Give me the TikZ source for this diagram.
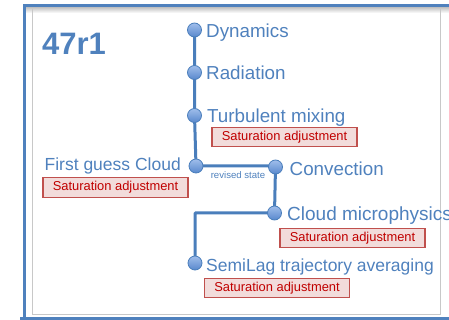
\documentclass[tikz,border=0pt]{standalone}
\usepackage{fontspec}
\setmainfont{Liberation Sans}
\usetikzlibrary{backgrounds}
\definecolor{txtblue}{RGB}{79,129,189}
\definecolor{lineblue}{RGB}{74,126,187}
\definecolor{frameblue}{RGB}{79,129,189}
\definecolor{ballhi}{RGB}{160,190,235}
\definecolor{balllo}{RGB}{88,136,205}
\definecolor{satfill}{RGB}{242,220,219}
\definecolor{satdraw}{RGB}{192,80,77}
\definecolor{sattext}{RGB}{192,0,0}
\definecolor{innergray}{RGB}{200,200,200}
\tikzset{
  dot/.style={circle, minimum size=14pt, inner sep=0pt, draw=lineblue, line width=0.8pt, top color=ballhi, bottom color=balllo},
  label/.style={text=txtblue, font=\fontsize{18.8}{21}\selectfont, inner sep=0pt},
  smalllabel/.style={text=txtblue, font=\fontsize{17.5}{20}\selectfont, inner sep=0pt},
  satbox/.style={draw=satdraw, fill=satfill, line width=1.2pt, text=sattext, minimum width=145pt, minimum height=19.5pt, inner sep=0pt, font=\fontsize{12.9}{14}\selectfont},
  conn/.style={draw=lineblue, line width=3pt, line join=round}
}
\begin{document}
\begin{tikzpicture}[x=1pt,y=-1pt]
\useasboundingbox (0,0) rectangle (449,320);
\clip (0,0) rectangle (449,320);
% title
\node[anchor=base west, text=txtblue, inner sep=0pt, font=\fontsize{31}{34}\selectfont\bfseries] (title) at (42,55) {47r1};
% dots
\node[dot] (dyn) at (194.5,30) {};
\node[dot] (rad) at (194.5,72.5) {};
\node[dot] (turb) at (194.5,115.5) {};
\node[dot] (fg) at (196,166) {};
\node[dot] (conv) at (275.5,167) {};
\node[dot] (cm) at (274.5,213) {};
\node[dot] (sl) at (195,263) {};
\coordinate (corner) at (195,213);
% labels
\node[label, anchor=base west] (tdyn) at (206,38) {Dynamics};
\node[label, anchor=base west] (trad) at (206,80) {Radiation};
\node[label, anchor=base west] (tturb) at (207,123) {Turbulent mixing};
\node[smalllabel, anchor=base east] (tfg) at (181,171) {First guess Cloud};
\node[label, anchor=base west] (tconv) at (289.5,176) {Convection};
\node[smalllabel, font=\fontsize{19}{21}\selectfont, anchor=base west] (tcm) at (287,221) {Cloud microphysics};
\node[smalllabel, anchor=base west] (tsl) at (206,271) {SemiLag trajectory averaging};
\node[text=txtblue, inner sep=0pt, font=\fontsize{9.6}{11}\selectfont] (rev) at (238,175.5) {revised state};
% saturation boxes
\node[satbox] (s1) at (284.5,137) {Saturation adjustment};
\node[satbox] (s2) at (115.5,187.5) {Saturation adjustment};
\node[satbox] (s3) at (352.5,238) {Saturation adjustment};
\node[satbox] (s4) at (277,288) {Saturation adjustment};
\begin{scope}[on background layer]
  % frame shadow
  \shade[top color=black!25, bottom color=white] (26,7) rectangle (449,13);
  \draw[innergray, line width=1pt] (32,9) -- (32,314) -- (440,314) -- (440,9);
  \draw[frameblue, line width=3pt] (24.5,330) -- (24.5,6) -- (460,6);
  \draw[frameblue, line width=3.5pt] (20,318.5) -- (460,318.5);
  % connector
  \draw[conn] (dyn.center) -- (rad.center) -- (turb.center) -- (fg.center) -- (fg.center -| conv.center) -- (conv.center) -- (cm.center) -- (corner) -- (sl.center);
\end{scope}
\end{tikzpicture}
\end{document}
